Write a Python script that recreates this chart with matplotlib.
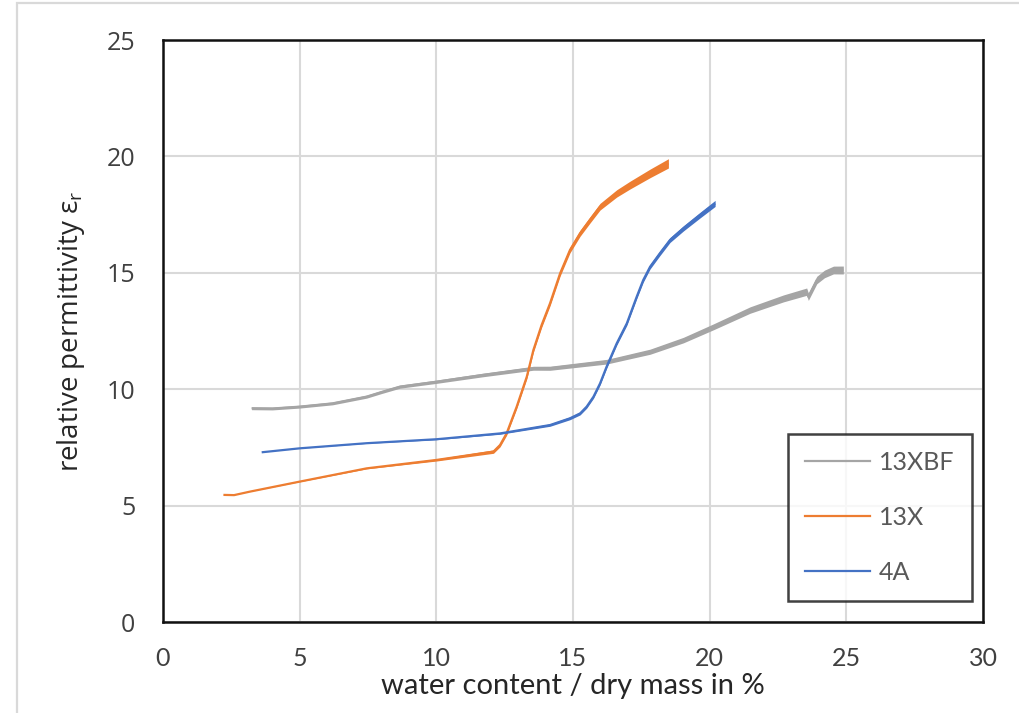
import numpy as np
import matplotlib
matplotlib.use("Agg")
import matplotlib.pyplot as plt
from matplotlib.lines import Line2D
from matplotlib.patches import Rectangle

# water content / dry mass in %  vs  relative permittivity
x_13xbf = [3.24, 4.0, 5.0, 6.2, 7.45, 8.0, 8.67, 10.0, 11.7, 13.55, 14.16, 16.23,
           17.82, 19.04, 20.14, 21.48, 22.7, 23.55, 23.61, 23.92, 24.2, 24.53, 24.89]
y_13xbf = [9.18, 9.17, 9.25, 9.39, 9.68, 9.88, 10.11, 10.32, 10.61, 10.9, 10.9, 11.18,
           11.61, 12.11, 12.68, 13.4, 13.9, 14.19, 13.97, 14.69, 14.95, 15.12, 15.12]

x_13x = [2.21, 2.6, 3.18, 5.0, 7.45, 10.0, 12.09, 12.33, 12.57, 12.94, 13.31, 13.55,
         13.85, 14.16, 14.53, 14.89, 15.26, 15.62, 15.99, 16.6, 17.09, 17.82, 18.49]
y_13x = [5.46, 5.45, 5.6, 6.03, 6.6, 6.96, 7.32, 7.6, 8.1, 9.25, 10.54, 11.68,
         12.75, 13.69, 14.98, 15.98, 16.7, 17.27, 17.84, 18.41, 18.77, 19.27, 19.7]

x_4a = [3.61, 5.0, 7.45, 10.0, 12.33, 14.16, 14.89, 15.26, 15.5, 15.75, 15.99, 16.23,
        16.6, 16.97, 17.33, 17.57, 17.82, 18.18, 18.55, 19.04, 19.65, 20.2]
y_4a = [7.29, 7.46, 7.68, 7.85, 8.1, 8.46, 8.75, 8.96, 9.25, 9.68, 10.25, 10.97,
        11.97, 12.83, 13.97, 14.69, 15.26, 15.84, 16.41, 16.91, 17.48, 17.98]

SERIES = [("13XBF", x_13xbf, y_13xbf, "#a5a5a5"),
          ("13X", x_13x, y_13x, "#ed7d31"),
          ("4A", x_4a, y_4a, "#4472c4")]
# noise band half-width (data units) at start / end of each curve
BAND = {"13XBF": (0.06, 0.17), "13X": (0.0, 0.2), "4A": (0.0, 0.13)}

plt.rcParams["font.family"] = ["Lato", "DejaVu Sans"]
plt.rcParams["mathtext.fontset"] = "custom"
plt.rcParams["mathtext.rm"] = "Open Sans"

fig = plt.figure(figsize=(10.2, 7.13), dpi=100)
ax = fig.add_axes([163 / 1020, 1 - 622 / 713, 820 / 1020, 582 / 713])

for name, xs, ys, col in SERIES:
    xs = np.array(xs); ys = np.array(ys)
    ax.plot(xs, ys, color=col, lw=1.6, solid_capstyle="butt", zorder=3)
    w0, w1 = BAND[name]
    t = (xs - xs[0]) / (xs[-1] - xs[0])
    w = w0 + (w1 - w0) * t ** 2
    ax.fill_between(xs, ys - w, ys + w, color=col, lw=0, zorder=3)

ax.set_xlim(0, 30)
ax.set_ylim(0, 25)
ax.set_xticks(np.arange(0, 31, 5))
ax.set_yticks(np.arange(0, 26, 5))
ax.grid(True, color="#d9d9d9", lw=1.5)
ax.set_axisbelow(True)
ax.tick_params(length=0, labelcolor="#404040")
ax.tick_params(axis="x", pad=18, labelsize=18)
ax.tick_params(axis="y", pad=20)
for lab in ax.get_yticklabels():
    lab.set_fontfamily("Open Sans")
    lab.set_fontsize(18)
for sp in ax.spines.values():
    sp.set_linewidth(1.8)
    sp.set_color("#111111")

ax.set_xlabel("water content / dry mass in %", fontsize=21, color="#262626", labelpad=2)
ax.set_ylabel(r"relative permittivity ε$_\mathrm{r}$", fontsize=20, color="#262626",
              labelpad=14, family="Open Sans")

handles = [Line2D([], [], color=c, lw=1.6) for _, _, _, c in SERIES]
leg = ax.legend(handles, [s[0] for s in SERIES], loc="lower right",
                bbox_to_anchor=(0.9866, 0.036), fontsize=18, frameon=True,
                fancybox=False, edgecolor="#111111", handlelength=2.6,
                handletextpad=0.35, labelspacing=1.27, borderpad=0.7,
                borderaxespad=0)
leg.get_frame().set_linewidth(1.8)
for txt in leg.get_texts():
    txt.set_color("#595959")

# light frame around the picture (left and top only, rest is cropped)
fig.add_artist(Rectangle((17 / 1020, -0.1), 1.2, 1 - 3 / 713 + 0.1,
                         transform=fig.transFigure, fill=False,
                         ec="#d9d9d9", lw=1.6))

fig.savefig("out.png", dpi=100)
